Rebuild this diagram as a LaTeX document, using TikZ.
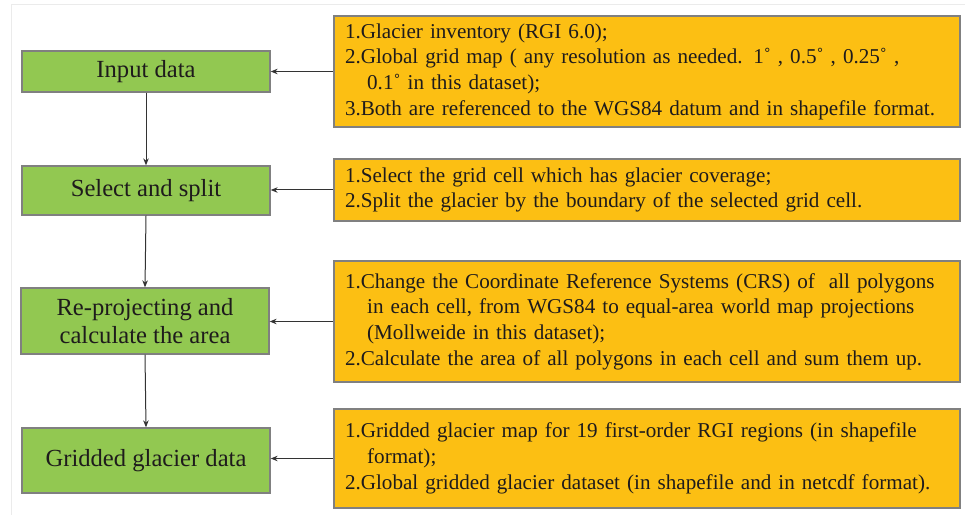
\documentclass[tikz,border=0pt]{standalone}
\usepackage{fontspec}
\setmainfont{Liberation Serif}
\newfontfamily\lserif{Liberation Serif}
\usetikzlibrary{arrows.meta}
\definecolor{gfill}{HTML}{92C851}
\definecolor{ofill}{HTML}{FCBF13}
\definecolor{bord}{HTML}{808080}
\definecolor{txt}{HTML}{1E1B1C}
\definecolor{arr}{HTML}{333333}
\tikzset{
  gbox/.style={draw=bord, line width=1.3bp, fill=gfill, minimum width=248bp, inner sep=0pt, align=center, text=txt, font=\lserif\fontsize{24.7}{28}\selectfont},
  obox/.style={draw=bord, line width=1.3bp, fill=ofill, minimum width=626bp, text width=604bp, inner xsep=11bp, inner ysep=0pt, align=left, text=txt, font=\lserif\fontsize{21.2}{25.8}\selectfont},
  conn/.style={draw=arr, line width=1bp, -{Stealth[length=7bp,width=5.5bp]}}
}
\newcommand{\ind}{\hspace*{1.05em}}
\begin{document}
\begin{tikzpicture}[x=1bp,y=-1bp]
\useasboundingbox (0,0) rectangle (965,515);
\draw[black!8, line width=1bp] (11,515) -- (11,5) -- (965,5);
% green boxes
\node[gbox, minimum height=41bp] (g1) at (146,71.5) {Input data};
\node[gbox, minimum height=49bp] (g2) at (146,190.5) {Select and split};
\node[gbox, minimum height=66bp] (g3) at (145,321) {Re-projecting and\\calculate the area};
\node[gbox, minimum height=65bp] (g4) at (146,460.5) {Gridded glacier data};
% orange boxes
\node[obox, minimum height=111bp] (o1) at (647,71.5) {%
\mbox{1.Glacier inventory (RGI 6.0);}\\
\mbox{2.Global grid map ( any resolution as needed. 1˚ , 0.5˚ , 0.25˚ ,}\\
\mbox{\ind 0.1˚ in this dataset);}\\
\mbox{3.Both are referenced to the WGS84 datum and in shapefile format.}};
\node[obox, minimum height=62bp] (o2) at (647,190) {%
\mbox{1.Select the grid cell which has glacier coverage;}\\
\mbox{2.Split the glacier by the boundary of the selected grid cell.}};
\node[obox, minimum height=121bp] (o3) at (647,321.5) {%
\mbox{1.Change the Coordinate Reference Systems (CRS) of \ all polygons}\\
\mbox{\ind in each cell, from WGS84 to equal-area world map projections}\\
\mbox{\ind (Mollweide in this dataset);}\\
\mbox{2.Calculate the area of all polygons in each cell and sum them up.}};
\node[obox, minimum height=99bp] (o4) at (647,458.5) {%
\mbox{1.Gridded glacier map for 19 first-order RGI regions (in shapefile}\\
\mbox{\ind format);}\\
\mbox{2.Global gridded glacier dataset (in shapefile and in netcdf format).}};
% connectors
\draw[conn] (o1.west) -- (o1.west -| g1.east);
\draw[conn] (o2.west) -- (o2.west -| g2.east);
\draw[conn] (o3.west) -- (o3.west -| g3.east);
\draw[conn] (o4.west) -- (o4.west -| g4.east);
\draw[conn] (g1.south) -- (g2.north);
\draw[conn] (g2.south) -- (g3.north);
\draw[conn] (g3.south) -- (g4.north);
\end{tikzpicture}
\end{document}
